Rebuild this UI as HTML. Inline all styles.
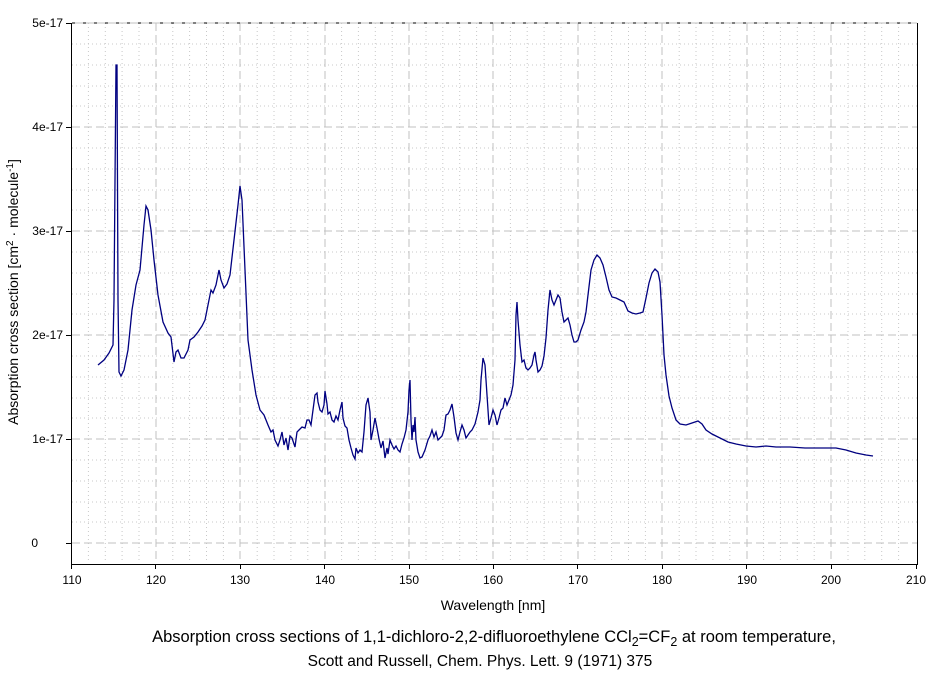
<!DOCTYPE html>
<html><head><meta charset="utf-8"><style>
body{margin:0;background:#fff;}
svg text{font-family:"Liberation Sans",sans-serif;font-size:12px;fill:#000;}
</style></head><body>
<svg width="940" height="672" viewBox="0 0 940 672" xmlns="http://www.w3.org/2000/svg">
<g stroke="#c8c8c8" stroke-width="1" stroke-dasharray="1,3">
<path d="M88.4 23V563M105.3 23V563M122.1 23V563M139 23V563M172.8 23V563M189.6 23V563M206.5 23V563M223.4 23V563M257.2 23V563M274 23V563M290.9 23V563M307.8 23V563M341.6 23V563M358.4 23V563M375.3 23V563M392.2 23V563M426 23V563M442.8 23V563M459.7 23V563M476.6 23V563M510.4 23V563M527.2 23V563M544.1 23V563M561 23V563M594.8 23V563M611.6 23V563M628.5 23V563M645.4 23V563M679.2 23V563M696 23V563M712.9 23V563M729.8 23V563M763.6 23V563M780.4 23V563M797.3 23V563M814.2 23V563M848 23V563M864.8 23V563M881.7 23V563M898.6 23V563"/>
<path d="M72 44H917M72 65H917M72 86H917M72 106H917M72 148H917M72 169H917M72 190H917M72 210H917M72 252H917M72 273H917M72 294H917M72 314H917M72 356H917M72 377H917M72 398H917M72 418H917M72 460H917M72 481H917M72 502H917M72 522H917"/>
</g>
<g stroke="#c0c0c0" stroke-width="1" stroke-dasharray="8,4">
<path d="M156 23V563M240 23V563M325 23V563M409 23V563M493 23V563M578 23V563M662 23V563M747 23V563M831 23V563"/>
<path d="M72 127H917M72 231H917M72 335H917M72 439H917M72 543H917"/>
</g>
<line x1="72" y1="23" x2="917" y2="23" stroke="#c0c0c0"/>
<line x1="72" y1="23" x2="917" y2="23" stroke="#000" stroke-dasharray="3,8"/>
<path d="M71.5 23V564.5H917.5V23" fill="none" stroke="#000"/>
<path d="M66 23.5H72M66 127.5H72M66 231.5H72M66 335.5H72M66 439.5H72M66 543.5H72M71.5 564V569M155.5 564V569M240.5 564V569M324.5 564V569M409.5 564V569M493.5 564V569M577.5 564V569M662.5 564V569M746.5 564V569M831.5 564V569M916.5 564V569" stroke="#000"/>
<g text-anchor="end"><text x="63" y="27">5e-17</text><text x="63" y="131">4e-17</text><text x="63" y="235">3e-17</text><text x="63" y="339">2e-17</text><text x="63" y="443">1e-17</text><text x="38" y="547">0</text></g>
<g text-anchor="middle"><text x="72" y="584">110</text><text x="156" y="584">120</text><text x="240" y="584">130</text><text x="325" y="584">140</text><text x="409" y="584">150</text><text x="493" y="584">160</text><text x="578" y="584">170</text><text x="662" y="584">180</text><text x="747" y="584">190</text><text x="831" y="584">200</text><text x="916" y="584">210</text>
<text x="493" y="610" style="font-size:14px">Wavelength [nm]</text>
<text x="494" y="642" style="font-size:16.5px">Absorption cross sections of 1,1-dichloro-2,2-difluoroethylene CCl<tspan dy="4" style="font-size:12.5px">2</tspan><tspan dy="-4">=CF</tspan><tspan dy="4" style="font-size:12.5px">2</tspan><tspan dy="-4"> at room temperature,</tspan></text>
<text x="480" y="666" style="font-size:15.5px">Scott and Russell, Chem. Phys. Lett. 9 (1971) 375</text>
<text transform="translate(18 292) rotate(-90)" style="font-size:14px">Absorption cross section [cm<tspan dy="-5" style="font-size:10px">2</tspan><tspan dy="5"> · molecule</tspan><tspan dy="-5" style="font-size:10px">-1</tspan><tspan dy="5">]</tspan></text></g>
<path fill="none" stroke="#000080" stroke-width="1.3" d="M98 365L104 360L109 353L113 345L114 300L115 180L116 65L117 65L118 300L119 372L121 376L124 370L128 350L132 310L136 285L140 270L144 225L146 206L148 210L151 230L154 260L158 295L163 322L168 333L171 337L174 362L176 352L178 350L181 358L184 358L188 350L190 340L194 337L198 332L202 326L205 320L208 305L211 290L213 293L216 285L219 270L221 280L224 288L227 284L230 275L234 240L238 205L240 186L242 200L245 270L248 340L252 370L256 395L260 410L264 415L268 425L271 432L273 430L275 440L278 446L280 440L282 432L284 445L286 438L288 450L290 436L292 438L295 447L297 432L299 430L302 427L305 428L307 420L309 420L311 425L313 410L315 395L317 393L318 402L320 410L322 412L324 405L325 391L327 404L328 414L330 412L332 420L334 422L336 416L338 420L340 410L342 402L343 418L345 426L347 428L349 440L351 448L353 455L355 459L356 448L358 453L360 450L362 452L364 432L366 405L368 398L370 412L371 440L373 430L375 418L377 428L379 439L381 448L383 441L385 458L387 448L388 454L390 440L392 445L394 449L396 446L398 450L400 452L402 444L404 438L406 430L408 412L409 390L410 380L411 420L412 440L413 425L414 432L415 417L416 440L418 452L420 458L422 457L425 450L428 440L430 436L432 430L434 437L436 432L438 440L440 438L442 436L444 430L446 415L448 414L450 410L452 404L454 417L456 433L458 440L460 432L462 425L464 430L466 438L468 435L470 432L472 430L475 424L478 412L480 400L481 380L483 358L485 365L487 395L489 425L491 418L493 410L495 415L497 425L499 418L501 410L503 408L505 398L507 405L509 400L511 395L513 385L515 360L516 315L517 302L518 320L520 345L522 362L524 360L526 368L528 370L530 368L532 365L534 355L535 352L536 360L538 372L540 370L542 366L544 356L546 338L548 310L550 290L552 300L554 305L556 300L558 295L560 298L562 312L564 322L566 320L568 318L570 325L572 335L574 342L576 342L578 340L581 330L584 322L586 312L588 295L591 270L594 260L597 255L600 258L603 265L606 277L609 290L612 297L616 298L620 300L624 302L628 311L632 313L636 314L640 313L643 312L646 298L649 283L652 273L655 269L658 272L660 282L662 315L664 355L666 375L669 396L672 408L676 420L680 424L686 425L692 423L698 421L702 424L706 430L712 434L720 438L728 442L736 444L746 446L756 447L766 446L776 447L790 447L805 448L820 448L836 448L846 450L856 453L866 455L873 456"/>
</svg>
</body></html>
